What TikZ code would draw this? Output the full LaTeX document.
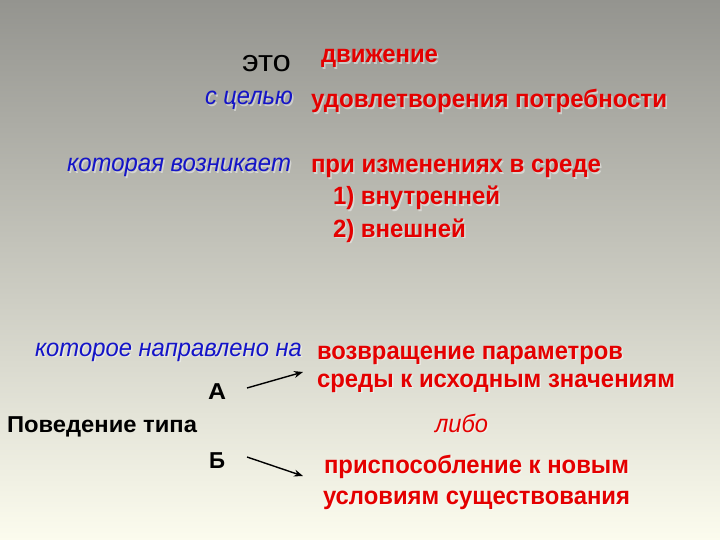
\documentclass[tikz,border=0pt]{standalone}
\usepackage{fontspec}
\setmainfont{Liberation Sans}
\usepackage{graphicx}
\usetikzlibrary{arrows.meta}
\definecolor{tred}{RGB}{228,0,0}
\definecolor{tblue}{RGB}{20,20,200}
\definecolor{bgtop}{RGB}{148,148,143}
\definecolor{bgbot}{RGB}{252,252,238}
\newcommand{\fitw}[2]{\resizebox{#1pt}{\height}{#2}}
\tikzset{
  txt/.style={anchor=base west, inner sep=0pt, outer sep=0pt},
  redb/.style={txt, text=tred, font=\fontsize{25}{27}\selectfont\bfseries},
  bluei/.style={txt, text=tblue, font=\fontsize{25}{27}\selectfont\itshape},
  blackr/.style={txt, text=black, font=\fontsize{30}{32}\selectfont},
  blackb/.style={txt, text=black, font=\fontsize{23}{25}\selectfont\bfseries},
  redi/.style={txt, text=tred, font=\fontsize{25}{27}\selectfont\itshape},
  shad/.style={text=white, text opacity=0.45},
  arr/.style={line width=1.4pt, -{Stealth[length=9pt,width=7pt]}}
}
% \st{name}{x}{y}{style}{width}{text}
\newcommand{\st}[6]{%
  \node[#4, shad] (#1s) at (#2+1.5,#3+1.5) {\fitw{#5}{#6}};
  \node[#4] (#1) at (#2,#3) {\fitw{#5}{#6}};
}
\begin{document}
\begin{tikzpicture}[x=1pt,y=-1pt]
\useasboundingbox (0,0) rectangle (720,540);
\shade[top color=bgtop, bottom color=bgbot] (0,0) rectangle (720,540);

\node[blackr] (eto) at (242,72) {\fitw{49}{это}};
\st{dv}{321}{63}{redb}{117}{движение}
\st{cel}{205}{105}{bluei}{88}{с целью}
\st{udov}{311}{108}{redb}{356}{удовлетворения потребности}
\st{vozn}{67}{172}{bluei}{224}{которая возникает}
\st{pri}{311}{173}{redb}{290}{при изменениях в среде}
\st{vn1}{333}{205}{redb}{167}{1) внутренней}
\st{vn2}{333}{237}{redb}{133}{2) внешней}
\st{napr}{35}{356}{bluei}{267}{которое направлено на}
\st{vozv}{317}{359}{redb}{306}{возвращение параметров}
\st{sred}{317}{387}{redb}{358}{среды к исходным значениям}
\node[blackb] (A) at (208,399) {\fitw{18}{А}};
\node[blackb] (pov) at (7,432) {\fitw{190}{Поведение типа}};
\st{libo}{435}{432}{redi}{53}{либо}
\node[blackb] (B) at (209,468) {\fitw{16}{Б}};
\st{prisp}{324}{473}{redb}{305}{приспособление к новым}
\st{usl}{323}{504}{redb}{307}{условиям существования}

\coordinate (a1) at (247,388);
\coordinate (a2) at (303,372);
\coordinate (b1) at (247,457);
\coordinate (b2) at (303,476);
\draw[arr] (a1) -- (a2);
\draw[arr] (b1) -- (b2);
\end{tikzpicture}
\end{document}
